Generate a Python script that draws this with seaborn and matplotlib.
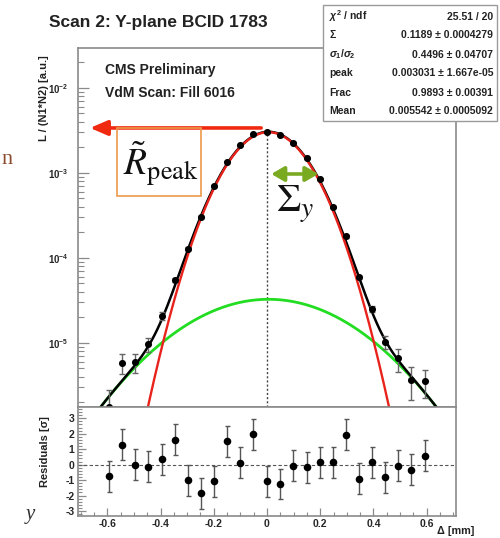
import numpy as np
import pandas as pd
import matplotlib
matplotlib.use("Agg")
import matplotlib.pyplot as plt
import seaborn as sns
from matplotlib.patches import Rectangle
from matplotlib.ticker import MultipleLocator, LogLocator, NullFormatter, FixedLocator

# ---------------- data ----------------
sep_mm = [-0.594, -0.543, -0.495, -0.446, -0.396, -0.347, -0.297, -0.248, -0.199, -0.149,
          -0.100, -0.051, 0.000, 0.050, 0.099, 0.149, 0.199, 0.248, 0.297, 0.347,
          0.395, 0.444, 0.493, 0.542, 0.592]
lumi = [1.75e-6, 5.8e-6, 5.9e-6, 9.6e-6, 2.09e-5, 5.5e-5, 1.28e-4, 3.03e-4, 6.98e-4, 1.34e-3,
        2.09e-3, 2.85e-3, 3.01e-3, 2.80e-3, 2.25e-3, 1.47e-3, 8.33e-4, 3.94e-4, 1.78e-4, 5.86e-5,
        2.49e-5, 1.02e-5, 6.53e-6, 3.67e-6, 3.51e-6]
lumi_err = [1.0e-6, 1.55e-6, 1.55e-6, 1.8e-6, 2.2e-6, 3e-6, 5e-6, 8e-6, 1.2e-5, 1.8e-5,
            2.2e-5, 2.6e-5, 2.7e-5, 2.6e-5, 2.3e-5, 1.9e-5, 1.4e-5, 9e-6, 6e-6, 3e-6,
            2.2e-6, 1.8e-6, 2.0e-6, 1.55e-6, 1.3e-6]
residuals = [-0.75, 1.3, 0.0, -0.13, 0.35, 1.6, -1.0, -1.85, -1.08, 1.5,
             0.12, 1.97, -1.08, -1.25, -0.07, -0.17, 0.17, 0.15, 1.95, -0.9,
             0.17, -0.82, -0.08, -0.34, 0.57]
resid_err = [1.0] * 25

# fit parameters (from stats box)
fit_labels = [r"$\chi^2$ / ndf", "Σ", r"$\sigma_1/\sigma_2$", "peak", "Frac", "Mean"]
fit_values = ["25.51 / 20", "0.1189 ± 0.0004279", "0.4496 ± 0.04707",
              "0.003031 ± 1.667e-05", "0.9893 ± 0.00391", "0.005542 ± 0.0005092"]
cap_sigma = 0.1189
sig_ratio = 0.4496
peak = 0.003031
frac = 0.9893
mean = 0.005542

ytick_vals = [1e-5, 1e-4, 1e-3, 1e-2]
ytick_labels = [r"10$^{-5}$", r"10$^{-4}$", r"10$^{-3}$", r"10$^{-2}$"]
rtick_vals = [3, 2, 1, 0, -1, -2, -3]
xtick_vals = [-0.6, -0.4, -0.2, 0, 0.2, 0.4, 0.6]
xtick_labels = ["-0.6", "-0.4", "-0.2", "0", "0.2", "0.4", "0.6"]

# ---------------- style ----------------
sns.set_style("ticks")
plt.rcParams["font.family"] = ["Liberation Sans", "DejaVu Sans"]
plt.rcParams["mathtext.fontset"] = "custom"
plt.rcParams["mathtext.rm"] = "Liberation Sans:bold"
plt.rcParams["mathtext.it"] = "Liberation Sans:bold:italic"
plt.rcParams["mathtext.bf"] = "Liberation Sans:bold"

W, H = 500, 538
fig = plt.figure(figsize=(W / 100, H / 100), dpi=100)
fig.patch.set_facecolor("white")

def fx(px):
    return px / W

def fy(py):
    return 1 - py / H

ax = fig.add_axes([fx(78), fy(407), 378 / W, 359 / H])
axr = fig.add_axes([fx(78), fy(516), 378 / W, 109 / H])

frame_col = "#8a8a8a"
for a in (ax, axr):
    for s in a.spines.values():
        s.set_color(frame_col)
        s.set_linewidth(1.2)
        s.set_visible(True)
    a.set_facecolor("white")

# ---------------- fit curves ----------------
sigma1 = cap_sigma / (frac + (1 - frac) / sig_ratio)
sigma2 = sigma1 / sig_ratio
xg = np.linspace(-0.71, 0.71, 600)
g1 = peak * frac * np.exp(-(xg - mean) ** 2 / (2 * sigma1 ** 2))
g2 = peak * (1 - frac) * np.exp(-(xg - mean) ** 2 / (2 * sigma2 ** 2))
curves = pd.DataFrame({"x": xg, "narrow": g1, "wide": g2, "total": g1 + g2})

sns.lineplot(data=curves, x="x", y="wide", ax=ax, color="#22dd22", lw=2.0, zorder=2)
sns.lineplot(data=curves, x="x", y="total", ax=ax, color="black", lw=1.8, zorder=3)
sns.lineplot(data=curves, x="x", y="narrow", ax=ax, color="#e8231c", lw=1.7, zorder=4)

pts = pd.DataFrame({"x": sep_mm, "y": lumi, "err": lumi_err,
                    "res": residuals, "rerr": resid_err})
ax.errorbar(pts["x"], pts["y"], yerr=pts["err"], fmt="none", ecolor="#666666",
            elinewidth=1.0, capsize=2, zorder=3)
sns.scatterplot(data=pts, x="x", y="y", ax=ax, color="black", s=26,
                edgecolor="black", linewidth=0, zorder=5)

ax.set_yscale("log")
ax.set_xlim(-0.71, 0.71)
ax.set_ylim(1.754e-6, 0.0293)
ax.set_xlabel("")
ax.set_ylabel("")
ax.set_xticks([])
ax.yaxis.set_major_locator(FixedLocator(ytick_vals))
ax.set_yticklabels(ytick_labels, fontsize=7, fontweight="bold")
ax.yaxis.set_minor_locator(LogLocator(base=10, subs=np.arange(2, 10), numticks=20))
ax.yaxis.set_minor_formatter(NullFormatter())
ax.tick_params(axis="y", which="major", direction="in", length=8, width=0.9,
               color=frame_col, pad=7)
ax.tick_params(axis="y", which="minor", direction="in", length=4, width=0.8,
               color=frame_col)
ax.tick_params(axis="x", which="both", bottom=False, top=False)

# vertical dotted line at 0
ax.vlines(0, 1.754e-6, 3.3e-3, colors="#444444", linestyles=(0, (1.5, 1.5)), lw=1.0, zorder=1)

# red arrow to R_peak
y_arr = 3.36e-3
ax.annotate("", xy=(-0.665, y_arr), xytext=(-0.022, y_arr),
            arrowprops=dict(arrowstyle="-|>,head_length=0.7,head_width=0.3",
                            color="#f02a10", lw=2.6, mutation_scale=15,
                            shrinkA=0, shrinkB=0), zorder=6)
# green double arrow Sigma_y
y_g = 9.66e-4
ax.annotate("", xy=(0.193, y_g), xytext=(0.016, y_g),
            arrowprops=dict(arrowstyle="<|-|>,head_length=0.55,head_width=0.32",
                            color="#7aaa22", lw=2.6, mutation_scale=14,
                            shrinkA=0, shrinkB=0), zorder=6)

# ---------------- residual panel ----------------
axr.axhline(0, color="#555555", lw=0.8, ls=(0, (3, 2)), zorder=1)
axr.errorbar(pts["x"], pts["res"], yerr=pts["rerr"], fmt="none", ecolor="#555555",
             elinewidth=1.0, capsize=1.8, zorder=3)
sns.scatterplot(data=pts, x="x", y="res", ax=axr, color="black", s=30,
                edgecolor="black", linewidth=0, zorder=5)
axr.set_xlim(-0.71, 0.71)
axr.set_ylim(-3.32, 3.73)
axr.set_xlabel("")
axr.set_ylabel("")
axr.set_yticks(rtick_vals)
axr.set_yticklabels([str(v) for v in rtick_vals], fontsize=7.5, fontweight="bold")
axr.set_xticks(xtick_vals)
axr.set_xticklabels(xtick_labels, fontsize=7.5, fontweight="bold")
axr.yaxis.set_minor_locator(MultipleLocator(0.2))
axr.xaxis.set_minor_locator(MultipleLocator(0.05))
axr.tick_params(axis="both", which="major", direction="in", length=6, width=0.9,
                color=frame_col, pad=2.5)
axr.tick_params(axis="both", which="minor", direction="in", length=3, width=0.8,
                color=frame_col)

# ---------------- texts ----------------
bold = dict(fontweight="bold", color="#222222")
fig.text(fx(158), fy(26.5), "Scan 2: Y-plane BCID 1783", ha="center", va="baseline",
         fontsize=12.5, **bold)
fig.text(fx(105), fy(74), "CMS Preliminary", ha="left", va="baseline", fontsize=10, **bold)
fig.text(fx(105), fy(97), "VdM Scan: Fill 6016", ha="left", va="baseline", fontsize=10, **bold)
fig.text(fx(44), fy(98), "L / (N1*N2) [a.u.]", rotation=90, ha="center", va="center",
         fontsize=8, **bold)
fig.text(fx(45), fy(452), "Residuals [σ]", rotation=90, ha="center", va="center",
         fontsize=8, **bold)
fig.text(fx(437), fy(526.5), "Δ [mm]", ha="left", va="top", fontsize=7.8, **bold)

# orange box with R_peak
fig.patches.append(Rectangle((fx(117), fy(196)), (201 - 117) / W, (196 - 128) / H,
                             transform=fig.transFigure, facecolor="none",
                             edgecolor="#ec9a4a", lw=1.2, zorder=7))
fig.text(fx(123), fy(176), r"$\tilde{R}_{\mathrm{peak}}$", ha="left", va="baseline",
         fontsize=27, color="#111111", math_fontfamily="stix", zorder=8)
fig.text(fx(276), fy(212), r"$\Sigma_y$", ha="left", va="baseline",
         fontsize=28, color="#111111", math_fontfamily="stix", zorder=8)

# slide remnants
fig.text(fx(1), fy(164), "n", ha="left", va="baseline", fontsize=16,
         family=["Liberation Serif"], color="#8b4a2b")
fig.text(fx(26), fy(519), "y", ha="left", va="baseline", fontsize=15, style="italic",
         family=["Liberation Serif"], color="#333333")

# stats box
fig.patches.append(Rectangle((fx(323), fy(121)), (497 - 323) / W, (121 - 5) / H,
                             transform=fig.transFigure, facecolor="white",
                             edgecolor="#9a9a9a", lw=1.0, zorder=9))
row0, drow = 16.5, 19.0
for i, (lab, val) in enumerate(zip(fit_labels, fit_values)):
    yy = fy(row0 + i * drow)
    fig.text(fx(329), yy, lab, ha="left", va="center", fontsize=7.5, zorder=10, **bold)
    fig.text(fx(493), yy, val, ha="right", va="center", fontsize=7.5, zorder=10, **bold)

fig.savefig("out.png", dpi=100, facecolor="white")
